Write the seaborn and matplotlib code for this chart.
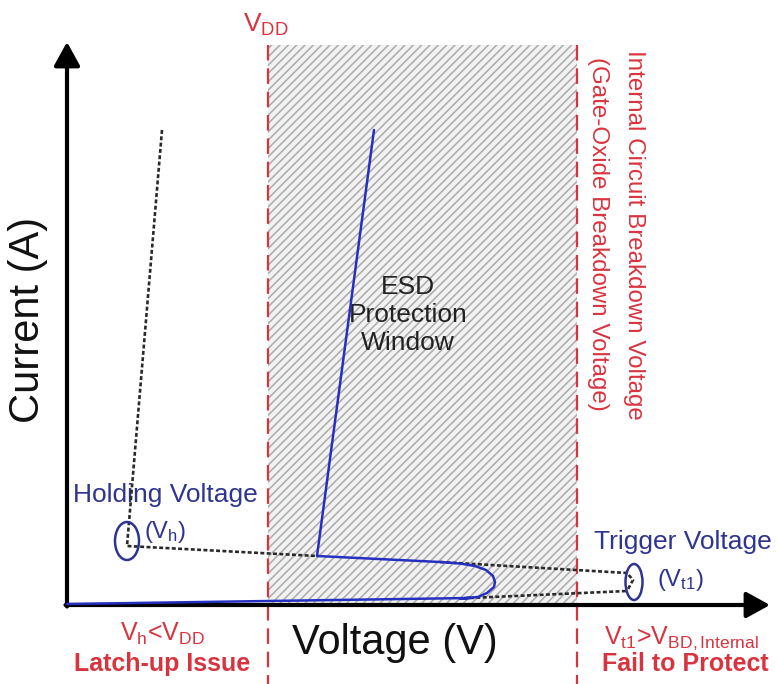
import matplotlib
matplotlib.use("Agg")
import matplotlib.pyplot as plt
from matplotlib.patches import Rectangle, Ellipse
import seaborn as sns
import pandas as pd

# ---------------- data (arbitrary units: V right from origin, I up from origin) --------------
# blue measured I-V (snapback) curve
blue_v = [0, 403, 393, 411, 420, 427, 428, 426, 419, 408, 393, 373, 250, 307]
blue_i = [1, 7, 6.5, 8, 12, 18, 23, 29, 35, 39, 41.5, 43, 49, 475]
# black dashed: latch-up device holding branch
hold_v = [95, 60, 60, 250]
hold_i = [475, 59, 59, 49]
# black dashed: trigger branch (upper and lower)
trig_up_v = [373, 560, 566, 560]
trig_up_i = [43, 32, 25, 14]
trig_lo_v = [403, 560]
trig_lo_i = [7, 14]
# window edges
vdd_x = 201
vbd_x = 510
window_top = 560
# ellipse markers
hold_pt = (60, 64)
trig_pt = (567, 23)

RED = "#d8343f"
NAVY = "#2e348f"
BLUE = "#2530c0"

sns.set_theme(style="white")
plt.rcParams["font.family"] = ["Liberation Sans", "DejaVu Sans"]
plt.rcParams["mathtext.fontset"] = "custom"
plt.rcParams["mathtext.rm"] = "Liberation Sans"
plt.rcParams["mathtext.it"] = "Liberation Sans:italic"
plt.rcParams["mathtext.bf"] = "Liberation Sans:bold"
plt.rcParams["hatch.linewidth"] = 1.1
plt.rcParams["hatch.color"] = "#ababab"

fig = plt.figure(figsize=(7.77, 6.84), dpi=100)
ax = fig.add_axes([0, 0, 1, 1])
ax.set_xlim(-67, 710)
ax.set_ylim(-79, 605)
ax.axis("off")

# hatched ESD window
ax.add_patch(Rectangle((vdd_x, 0), vbd_x - vdd_x, window_top, facecolor="#f2f2f2",
                       edgecolor="#ababab", hatch="////", lw=0, zorder=0))

# red dashed limits
for xv in (vdd_x, vbd_x):
    ax.plot([xv, xv], [window_top, -79], color=RED, lw=1.6, dashes=(7, 3.5), zorder=2)

# axes arrows
arrow = dict(arrowstyle="-|>,head_length=0.6,head_width=0.33", lw=3, color="black",
             mutation_scale=24, shrinkA=0, shrinkB=0)
ax.annotate("", xy=(0, 563), xytext=(0, -1.5), arrowprops=arrow, zorder=3)
ax.annotate("", xy=(703, 0), xytext=(-1.5, 0), arrowprops=arrow, zorder=3)

# dashed black branches
dash_kw = dict(color="#2a2a2a", lw=1.9, dashes=(1.5, 0.9), zorder=4)
ax.plot(hold_v, hold_i, **dash_kw)
ax.plot(trig_up_v, trig_up_i, **dash_kw)
ax.plot(trig_lo_v, trig_lo_i, **dash_kw)

# blue curve
df = pd.DataFrame({"V": blue_v, "I": blue_i})
sns.lineplot(data=df, x="V", y="I", sort=False, estimator=None, color=BLUE, lw=1.8,
             ax=ax, zorder=5)

# ellipses
ax.add_patch(Ellipse(hold_pt, 24, 38, fill=False, edgecolor=NAVY, lw=1.8, zorder=6))
ax.add_patch(Ellipse(trig_pt, 17, 36, fill=False, edgecolor=NAVY, lw=1.8, zorder=6))

ax.set_xlabel("")
ax.set_ylabel("")

# texts
ax.text(-39, 285, "Current (A)", rotation=90, fontsize=30, ha="center", va="center",
        color="#111111")
ax.text(328, -38, "Voltage (V)", fontsize=30, ha="center", va="center", color="#111111")
ax.text(341, 290, "ESD\nProtection\nWindow", fontsize=19, ha="center", va="center",
        color="#222222", linespacing=1.2)
ax.text(199, 580, r"V$_{\mathrm{DD}}$", fontsize=19, ha="center", va="center", color=RED)

ax.text(567, 555, "Internal Circuit Breakdown Voltage", rotation=-90, fontsize=17.4,
        ha="left", va="center", rotation_mode="anchor", color=RED)
ax.text(531, 548, "(Gate-Oxide Breakdown Voltage)", rotation=-90, fontsize=17.4,
        ha="left", va="center", rotation_mode="anchor", color=RED)

ax.text(98, 110, "Holding Voltage", fontsize=19, ha="center", va="center", color=NAVY)
ax.text(98, 73, r"(V$_{\mathrm{h}}$)", fontsize=17, ha="center", va="center", color=NAVY)
ax.text(616, 63, "Trigger Voltage", fontsize=19, ha="center", va="center", color=NAVY)
ax.text(613, 25, r"(V$_{\mathrm{t1}}$)", fontsize=17, ha="center", va="center", color=NAVY)

ax.text(96, -29, r"V$_{\mathrm{h}}$<V$_{\mathrm{DD}}$", fontsize=18, ha="center",
        va="center", color=RED)
ax.text(95, -59, "Latch-up Issue", fontsize=18, fontweight="bold", ha="center",
        va="center", color=RED)
ax.text(614, -33, r"V$_{\mathrm{t1}}$>V$_{\mathrm{BD,Internal}}$", fontsize=18,
        ha="center", va="center", color=RED)
ax.text(618, -59, "Fail to Protect", fontsize=18, fontweight="bold", ha="center",
        va="center", color=RED)

fig.savefig("out.png", dpi=100)
